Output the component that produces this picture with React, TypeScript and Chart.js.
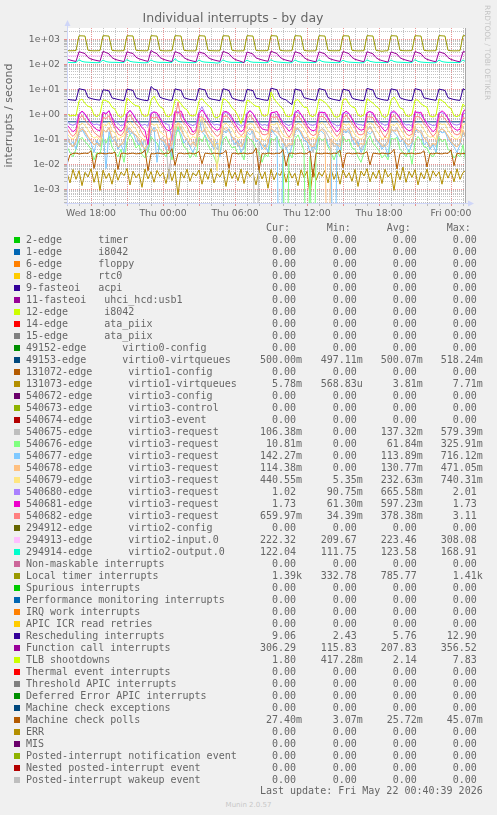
import React, { useEffect, useRef } from 'react';
import { Chart, registerables } from 'chart.js';

Chart.register(...registerables);

// ---- axis / text constants ----
const START_HOUR = 15.5; // hours since Wed 00:00 (Wed 15:30)
const END_HOUR = 48.75; // Fri 00:45
const STEP_HOURS = 0.25; // 15-minute samples
const Y_MIN = 2.83e-4;
const Y_MAX = 2830;
const TITLE = 'Individual interrupts - by day';
const Y_TITLE = 'interrupts / second';
const DAY_NAMES = ['Wed', 'Thu', 'Fri'];
const HEADERS = ['Cur:', 'Min:', 'Avg:', 'Max:'];
const LAST_UPDATE = 'Last update: Fri May 22 00:40:39 2026';
const FOOTER = 'Munin 2.0.57';
const WATERMARK = 'RRDTOOL / TOBI OETIKER';

// ---- legend ----
const LABELS = [
  '2-edge      timer',
  '1-edge      i8042',
  '6-edge      floppy',
  '8-edge      rtc0',
  '9-fasteoi   acpi',
  '11-fasteoi   uhci_hcd:usb1',
  '12-edge      i8042',
  '14-edge      ata_piix',
  '15-edge      ata_piix',
  '49152-edge      virtio0-config',
  '49153-edge      virtio0-virtqueues',
  '131072-edge      virtio1-config',
  '131073-edge      virtio1-virtqueues',
  '540672-edge      virtio3-config',
  '540673-edge      virtio3-control',
  '540674-edge      virtio3-event',
  '540675-edge      virtio3-request',
  '540676-edge      virtio3-request',
  '540677-edge      virtio3-request',
  '540678-edge      virtio3-request',
  '540679-edge      virtio3-request',
  '540680-edge      virtio3-request',
  '540681-edge      virtio3-request',
  '540682-edge      virtio3-request',
  '294912-edge      virtio2-config',
  '294913-edge      virtio2-input.0',
  '294914-edge      virtio2-output.0',
  'Non-maskable interrupts',
  'Local timer interrupts',
  'Spurious interrupts',
  'Performance monitoring interrupts',
  'IRQ work interrupts',
  'APIC ICR read retries',
  'Rescheduling interrupts',
  'Function call interrupts',
  'TLB shootdowns',
  'Thermal event interrupts',
  'Threshold APIC interrupts',
  'Deferred Error APIC interrupts',
  'Machine check exceptions',
  'Machine check polls',
  'ERR',
  'MIS',
  'Posted-interrupt notification event',
  'Nested posted-interrupt event',
  'Posted-interrupt wakeup event',
];

const COLORS = [
  '#00CC00', '#0066B3', '#FF8000', '#FFCC00', '#330099', '#990099', '#CCFF00', '#FF0000',
  '#808080', '#008F00', '#00487D', '#B35A00', '#B38F00', '#6B006B', '#8FB300', '#B30000',
  '#BEBEBE', '#80FF80', '#80C9FF', '#FFC080', '#FFE680', '#AA80FF', '#EE00CC', '#FF8080',
  '#666600', '#FFBFFF', '#00FFCC', '#CC6699', '#999900',
  '#00CC00', '#0066B3', '#FF8000', '#FFCC00', '#330099', '#990099', '#CCFF00', '#FF0000',
  '#808080', '#008F00', '#00487D', '#B35A00', '#B38F00', '#6B006B', '#8FB300', '#B30000',
  '#BEBEBE',
];

const Z = '0.00';
const CUR = [
  Z, Z, Z, Z, Z, Z, Z, Z, Z, Z,
  '500.00m', Z, '5.78m', Z, Z, Z,
  '106.38m', '10.81m', '142.27m', '114.38m', '440.55m', '1.02', '1.73', '659.97m',
  Z, '222.32', '122.04', Z, '1.39k', Z, Z, Z, Z,
  '9.06', '306.29', '1.80', Z, Z, Z, Z, '27.40m', Z, Z, Z, Z, Z,
];
const MIN = [
  Z, Z, Z, Z, Z, Z, Z, Z, Z, Z,
  '497.11m', Z, '568.83u', Z, Z, Z,
  Z, Z, Z, Z, '5.35m', '90.75m', '61.30m', '34.39m',
  Z, '209.67', '111.75', Z, '332.78', Z, Z, Z, Z,
  '2.43', '115.83', '417.28m', Z, Z, Z, Z, '3.07m', Z, Z, Z, Z, Z,
];
const AVG = [
  Z, Z, Z, Z, Z, Z, Z, Z, Z, Z,
  '500.07m', Z, '3.81m', Z, Z, Z,
  '137.32m', '61.84m', '113.89m', '130.77m', '232.63m', '665.58m', '597.23m', '378.38m',
  Z, '223.46', '123.58', Z, '785.77', Z, Z, Z, Z,
  '5.76', '207.83', '2.14', Z, Z, Z, Z, '25.72m', Z, Z, Z, Z, Z,
];
const MAX = [
  Z, Z, Z, Z, Z, Z, Z, Z, Z, Z,
  '518.24m', Z, '7.71m', Z, Z, Z,
  '579.39m', '325.91m', '716.12m', '471.05m', '740.31m', '2.01', '1.73', '3.11',
  Z, '308.08', '168.91', Z, '1.41k', Z, Z, Z, Z,
  '12.90', '356.52', '7.83', Z, Z, Z, Z, '45.07m', Z, Z, Z, Z, Z,
];

// ---- series values (15-minute samples, Wed 15:30 .. Fri 00:45) ----
const VIRTIO0_VQ = [
  0.5, 0.5, 0.5, 0.5, 0.5, 0.5, 0.5, 0.5,
  0.5, 0.5, 0.5, 0.5, 0.5, 0.5, 0.5, 0.5,
  0.5, 0.5, 0.5, 0.5, 0.5, 0.5, 0.5, 0.5,
  0.5, 0.5, 0.5, 0.5, 0.5, 0.5, 0.5, 0.5,
  0.5, 0.5, 0.5, 0.5, 0.5, 0.5, 0.5, 0.5,
  0.5, 0.5, 0.5, 0.5, 0.5, 0.5, 0.5, 0.5,
  0.5, 0.5, 0.518, 0.5, 0.5, 0.5, 0.5, 0.5,
  0.5, 0.5, 0.5, 0.5, 0.5, 0.5, 0.5, 0.5,
  0.5, 0.5, 0.5, 0.5, 0.5, 0.5, 0.5, 0.5,
  0.5, 0.5, 0.5, 0.5, 0.5, 0.5, 0.5, 0.5,
  0.5, 0.5, 0.5, 0.5, 0.5, 0.5, 0.5, 0.5,
  0.5, 0.5, 0.497, 0.5, 0.5, 0.5, 0.5, 0.5,
  0.5, 0.5, 0.5, 0.5, 0.5, 0.5, 0.5, 0.5,
  0.5, 0.5, 0.5, 0.5, 0.5, 0.5, 0.5, 0.5,
  0.5, 0.5, 0.5, 0.5, 0.5, 0.5, 0.5, 0.5,
  0.5, 0.5, 0.5, 0.5, 0.5, 0.5, 0.5, 0.5,
  0.5, 0.5, 0.5, 0.5, 0.5, 0.5,
];

const VIRTIO1_VQ = [
  0.0045, 0.0018, 0.0062, 0.0025, 0.0055, 0.0014, 0.0048, 0.0031,
  0.0066, 0.0019, 0.0052, 0.0009, 0.0058, 0.0027, 0.0044, 0.0016,
  0.0061, 0.0023, 0.0049, 0.0035, 0.0068, 0.0015, 0.0053, 0.0029,
  0.0042, 0.0012, 0.0064, 0.0026, 0.0051, 0.0019, 0.0057, 0.0033,
  0.0047, 0.0017, 0.0065, 0.0022, 0.0054, 0.0006, 0.0049, 0.0028,
  0.0063, 0.0021, 0.0046, 0.0034, 0.0059, 0.0016, 0.0052, 0.0025,
  0.0067, 0.0018, 0.0043, 0.0031, 0.0056, 0.0013, 0.0061, 0.0027,
  0.0048, 0.0022, 0.0064, 0.0017, 0.0053, 0.0032, 0.0045, 0.0015,
  0.0058, 0.0026, 0.0050, 0.0011, 0.0062, 0.0024, 0.0047, 0.0035,
  0.0066, 0.0019, 0.0055, 0.0028, 0.0044, 0.0014, 0.0060, 0.0030,
  0.0052, 0.00057, 0.0063, 0.0023, 0.0048, 0.0033, 0.0057, 0.0018,
  0.0065, 0.0025, 0.0051, 0.0016, 0.0059, 0.0029, 0.0046, 0.0021,
  0.0062, 0.0013, 0.0054, 0.0034, 0.0067, 0.0020, 0.0049, 0.0027,
  0.0058, 0.0017, 0.0063, 0.0031, 0.0045, 0.0009, 0.0056, 0.0024,
  0.0077, 0.0019, 0.0052, 0.0030, 0.0061, 0.0015, 0.0047, 0.0026,
  0.0064, 0.0022, 0.0055, 0.0033, 0.0050, 0.0016, 0.0060, 0.0028,
  0.0053, 0.0020, 0.0066, 0.0025, 0.0047, 0.00578,
];

const REQ_540675 = [
  0.14, 0.07, 0.05, 0.09, 0.22, 0.31, 0.18, 0.12,
  0.09, 0.06, 0.08, 0.05, 0.26, 0.19, 0.28, 0.11,
  0.13, 0.04, 0.07, 0.06, 0.35, 0.21, 0.17, 0.14,
  0.08, 0.05, 0.1, 0.03, 0.19, 0.29, 0.24, 0.1,
  0.12, 0.06, 0.0025, 0.07, 0.27, 0.2, 0.33, 0.13,
  0.1, 0.05, 0.07, 0.08, 0.23, 0.579, 0.19, 0.15,
  0.09, 0.07, 0.04, 0.06, 0.3, 0.22, 0.26, 0.12,
  0.11, 0.05, 0.08, 0.04, 0.21, 0.28, 0.16, 0,
  0.08, 0.06, 0.05, 0.07, 0.25, 0.19, 0.3, 0.13,
  0.1, 0.04, 0.06, 0.05, 0.32, 0.24, 0.18, 0.11,
  0.12, 0.07, 0.03, 0.08, 0.2, 0.27, 0.23, 0.14,
  0.09, 0.05, 0.07, 0.06, 0.28, 0.21, 0.19, 0.12,
  0.11, 0.06, 0.04, 0.07, 0.24, 0.34, 0.2, 0.1,
  0.08, 0.05, 0.06, 0.09, 0.26, 0.22, 0.29, 0.13,
  0.1, 0.07, 0.05, 0.06, 0.31, 0.18, 0.24, 0.11,
  0.12, 0.04, 0.07, 0.05, 0.22, 0.27, 0.2, 0.14,
  0.09, 0.06, 0.05, 0.07, 0.19, 0.106,
];

const REQ_540676 = [
  0.05, 0.03, 0.02, 0.04, 0.09, 0.12, 0.08, 0.06,
  0.04, 0.015, 0.03, 0.025, 0.11, 0.07, 0.14, 0.05,
  0.03, 0.02, 0.04, 0.012, 0.08, 0.16, 0.1, 0.045,
  0.06, 0.025, 0.018, 0.035, 0.13, 0.09, 0.07, 0.04,
  0.03, 0.02, 0.045, 0.015, 0.1, 0.326, 0.11, 0.05,
  0.04, 0.018, 0.03, 0.02, 0.12, 0.08, 0.15, 0.06,
  0.035, 0.02, 0.01, 0.03, 0.09, 0.13, 0.07, 0.045,
  0.05, 0.025, 0.03, 0.015, 0.14, 0.1, 0.08, 0.04,
  0.03, 0.012, 0.025, 0.02, 0.11, 0.09, 0.13, 0.05,
  0.04, 0, 0.03, 0.018, 0.1, 0.15, 0.08, 0.035,
  0, 0.02, 0, 0.025, 0.12, 0.09, 0.11, 0.05,
  0.03, 0.015, 0.035, 0.02, 0.13, 0.08, 0.1, 0.045,
  0.04, 0.02, 0.012, 0.03, 0.09, 0.14, 0.07, 0.05,
  0.035, 0.018, 0.025, 0.015, 0.11, 0.1, 0.12, 0.04,
  0.03, 0.02, 0.04, 0.01, 0.08, 0.13, 0.09, 0.05,
  0.045, 0.025, 0.02, 0.03, 0.12, 0.08, 0.1, 0.04,
  0.03, 0.018, 0.025, 0.02, 0.06, 0.0108,
];

const REQ_540677 = [
  0.12, 0.06, 0.08, 0.04, 0.18, 0.25, 0.15, 0.1,
  0.07, 0.03, 0.09, 0.05, 0.22, 0.0067, 0.2, 0.08,
  0.1, 0.04, 0.06, 0.03, 0.27, 0.16, 0.19, 0.09,
  0.06, 0.08, 0.03, 0.05, 0.21, 0.3, 0.012, 0.11,
  0.08, 0.04, 0.07, 0.02, 0.19, 0.24, 0.17, 0.07,
  0.1, 0.05, 0.03, 0.06, 0.716, 0.2, 0.14, 0.09,
  0.07, 0.04, 0.08, 0.02, 0.23, 0.18, 0.26, 0.1,
  0.06, 0.09, 0.03, 0.05, 0.2, 0.15, 0.22, 0.08,
  0.1, 0.04, 0.06, 0.03, 0.25, 0.17, 0.13, 0,
  0.07, 0.05, 0.02, 0.06, 0.19, 0.28, 0.16, 0.09,
  0.08, 0.03, 0.05, 0.04, 0.24, 0.2, 0.15, 0.06,
  0.04, 0, 0.07, 0.03, 0.22, 0.18, 0.25, 0.1,
  0.06, 0.08, 0.03, 0.05, 0.2, 0.16, 0.21, 0.09,
  0.07, 0.04, 0.06, 0.02, 0.26, 0.19, 0.14, 0.08,
  0.1, 0.05, 0.03, 0.07, 0.21, 0.24, 0.17, 0.06,
  0.08, 0.04, 0.06, 0.03, 0.23, 0.18, 0.2, 0.1,
  0.07, 0.05, 0.03, 0.06, 0.2, 0.142,
];

const REQ_540678 = [
  0.1, 0.07, 0.05, 0.08, 0.19, 0.26, 0.21, 0.13,
  0.09, 0.06, 0.07, 0.05, 0.24, 0.2, 0.3, 0.12,
  0.08, 0.05, 0.06, 0.09, 0.22, 0.28, 0.18, 0.15,
  0.11, 0.06, 0.04, 0.07, 0.27, 0.21, 0.25, 0.1,
  0.09, 0.07, 0.05, 0.06, 0.2, 0.471, 0.23, 0.14,
  0.1, 0.06, 0.08, 0.05, 0.25, 0.19, 0.27, 0.12,
  0.08, 0.05, 0.07, 0.06, 0.23, 0.3, 0.2, 0.13,
  0.09, 0.07, 0.05, 0.08, 0.21, 0.26, 0.24, 0.11,
  0.1, 0.06, 0.04, 0.07, 0.28, 0.22, 0.19, 0.14,
  0.08, 0.05, 0.07, 0.06, 0.24, 0.27, 0.21, 0.12,
  0.09, 0.06, 0.05, 0.08, 0.2, 0.25, 0.18, 0,
  0.1, 0.07, 0.06, 0.05, 0.26, 0.23, 0.28, 0.13,
  0.09, 0.05, 0.07, 0.06, 0.22, 0.29, 0.2, 0.11,
  0.08, 0.06, 0.05, 0.07, 0.25, 0.21, 0.24, 0.14,
  0.1, 0.07, 0.06, 0.08, 0.27, 0.23, 0.19, 0.12,
  0.09, 0.05, 0.07, 0.06, 0.21, 0.26, 0.22, 0.13,
  0.08, 0.06, 0.05, 0.07, 0.24, 0.114,
];

const REQ_540679 = [
  0.17, 0.12, 0.1, 0.14, 0.33, 0.45, 0.36, 0.24,
  0.15, 0.11, 0.13, 0.09, 0.4, 0.34, 0.48, 0.22,
  0.18, 0.1, 0.12, 0.14, 0.37, 0.5, 0.33, 0.26,
  0.14, 0.11, 0.09, 0.13, 0.44, 0.36, 0.41, 0.2,
  0.16, 0.12, 0.1, 0.15, 0.35, 0.46, 0.39, 0.25,
  0.17, 0.1, 0.13, 0.11, 0.42, 0.74, 0.37, 0.23,
  0.15, 0.12, 0.00535, 0.1, 0.38, 0.45, 0.34, 0.27,
  0.16, 0.11, 0.13, 0.12, 0.36, 0.43, 0.4, 0.21,
  0.18, 0.1, 0.09, 0.14, 0.41, 0.37, 0.47, 0.24,
  0.15, 0.12, 0.11, 0.13, 0.34, 0.44, 0.38, 0.26,
  0.16, 0.1, 0.12, 0.1, 0.39, 0.48, 0.35, 0.22,
  0.17, 0.11, 0.09, 0.14, 0.43, 0.36, 0.42, 0.25,
  0.15, 0.12, 0.1, 0.13, 0.37, 0.46, 0.39, 0.23,
  0.16, 0.1, 0.12, 0.11, 0.4, 0.35, 0.44, 0.27,
  0.18, 0.11, 0.1, 0.14, 0.36, 0.42, 0.37, 0.24,
  0.15, 0.12, 0.13, 0.1, 0.45, 0.39, 0.41, 0.22,
  0.16, 0.11, 0.1, 0.13, 0.38, 0.44,
];

const REQ_540680 = [
  0.52, 0.4, 0.36, 0.42, 1.05, 1.3, 0.95, 0.62,
  0.48, 0.38, 0.41, 0.35, 1.2, 1.1, 1.35, 0.7,
  0.55, 0.43, 0.34, 0.39, 0.98, 1.4, 1.05, 0.6,
  0.46, 0.36, 0.4, 0.33, 1.15, 1.25, 0.9, 0.68,
  0.5, 0.42, 0.37, 0.0908, 1.1, 1.3, 1.0, 0.64,
  0.47, 0.39, 0.35, 0.41, 1.25, 2.01, 1.1, 0.72,
  0.53, 0.37, 0.4, 0.36, 1.02, 1.2, 0.96, 0.6,
  0.49, 0.41, 0.33, 0.38, 1.18, 1.35, 1.05, 0.66,
  0.45, 0.36, 0.39, 0.34, 1.1, 1.22, 0.92, 0.7,
  0.52, 0.4, 0.35, 0.42, 1.3, 1.15, 1.0, 0.62,
  0.48, 0.38, 0.36, 0.4, 1.05, 1.28, 0.98, 0.68,
  0.5, 0.41, 0.34, 0.37, 1.2, 1.1, 1.08, 0.64,
  0.46, 0.39, 0.38, 0.35, 1.12, 1.32, 0.94, 0.7,
  0.51, 0.42, 0.36, 0.4, 1.25, 1.18, 1.02, 0.66,
  0.47, 0.37, 0.39, 0.33, 1.08, 1.27, 0.97, 0.62,
  0.49, 0.4, 0.35, 0.38, 1.2, 1.14, 1.04, 0.68,
  0.5, 0.39, 0.37, 0.41, 1.15, 1.02,
];

const REQ_540681 = [
  0.38, 0.27, 0.2, 0.25, 0.95, 1.35, 1.05, 0.66,
  0.42, 0.3, 0.24, 0.22, 1.2, 1.0, 1.4, 0.72,
  0.36, 0.26, 0.21, 0.28, 1.1, 1.45, 0.98, 0.64,
  0.44, 0.29, 0.23, 0.0613, 1.0, 1.25, 1.15, 0.7,
  0.39, 0.25, 0.22, 0.27, 1.3, 1.1, 1.38, 0.68,
  0.41, 0.31, 0.19, 0.24, 1.05, 1.5, 1.02, 0.62,
  0.37, 0.27, 0.23, 0.26, 1.22, 1.3, 1.12, 0.74,
  0.43, 0.28, 0.2, 0.25, 0.98, 1.42, 1.06, 0.66,
  0.38, 0.26, 0.24, 0.23, 1.15, 1.2, 1.3, 0.7,
  0.4, 0.3, 0.21, 0.27, 1.08, 1.48, 1.0, 0.65,
  0.36, 0.25, 0.22, 0.24, 1.25, 1.15, 1.2, 0.72,
  0.42, 0.28, 0.2, 0.26, 1.02, 1.35, 1.08, 0.68,
  0.39, 0.27, 0.23, 0.25, 1.18, 1.28, 1.14, 0.64,
  0.41, 0.29, 0.21, 0.27, 1.1, 1.4, 1.04, 0.7,
  0.37, 0.26, 0.22, 0.24, 1.3, 1.12, 1.22, 0.66,
  0.4, 0.28, 0.2, 0.26, 1.06, 1.38, 1.1, 0.69,
  0.38, 0.27, 0.23, 0.25, 1.2, 1.73,
];

const REQ_540682 = [
  0.28, 0.17, 0.13, 0.18, 0.65, 0.9, 0.6, 0.42,
  0.32, 0.19, 0.15, 0.12, 0.75, 0.68, 0.88, 0.47,
  0.27, 0.16, 0.14, 0.2, 0.72, 0.95, 0.62, 0.4,
  0.31, 0.18, 0.12, 0.16, 0.8, 0.7, 0.78, 0.46,
  0.29, 0.2, 0.0344, 0.17, 0.68, 3.11, 0.66, 0.44,
  0.33, 0.17, 0.15, 0.19, 0.74, 0.82, 0.6, 0.41,
  0.26, 0.18, 0.13, 0.16, 0.78, 0.88, 0.7, 0.48,
  0.3, 0.19, 0.14, 0.18, 0.66, 0.92, 0.64, 0.43,
  0.28, 0.16, 0.15, 0.17, 0.82, 0.75, 0.8, 0.45,
  0.32, 0.18, 0.12, 0.19, 0.7, 0.9, 0.62, 0.42,
  0.27, 0.17, 0.14, 0.16, 0.76, 0.84, 0.72, 0.47,
  0.3, 0.19, 0.13, 0.18, 0.68, 0.94, 0.65, 0.44,
  0.29, 0.16, 0.15, 0.17, 0.8, 0.78, 0.74, 0.4,
  0.31, 0.18, 0.12, 0.19, 0.72, 0.9, 0.63, 0.46,
  0.28, 0.17, 0.14, 0.16, 0.77, 0.82, 0.7, 0.43,
  0.3, 0.19, 0.13, 0.18, 0.7, 0.88, 0.66, 0.45,
  0.29, 0.17, 0.15, 0.17, 0.74, 0.66,
];

const VIRTIO2_IN = [
  219, 217, 216, 218, 238, 229, 223, 220,
  218, 216, 215, 217, 242, 231, 224, 221,
  220, 217, 216, 219, 240, 230, 222, 219,
  217, 215, 214, 216, 236, 228, 221, 218,
  219, 216, 215, 218, 241, 232, 225, 220,
  218, 216, 210, 217, 308, 235, 224, 221,
  220, 218, 216, 219, 239, 229, 223, 219,
  217, 215, 214, 216, 243, 230, 222, 218,
  219, 217, 215, 218, 237, 228, 224, 220,
  218, 216, 215, 217, 240, 231, 223, 219,
  220, 217, 216, 219, 238, 229, 222, 221,
  217, 215, 214, 216, 242, 232, 225, 218,
  219, 216, 215, 218, 239, 230, 223, 220,
  218, 216, 215, 217, 241, 229, 222, 219,
  220, 218, 216, 219, 236, 228, 224, 221,
  217, 215, 214, 216, 240, 231, 223, 218,
  219, 217, 216, 218, 238, 222,
];

const VIRTIO2_OUT = [
  120, 118, 117, 118, 152, 130, 123, 121,
  119, 117, 116, 118, 148, 128, 122, 120,
  120, 118, 117, 119, 155, 131, 124, 121,
  118, 116, 115, 117, 150, 129, 122, 119,
  120, 118, 117, 118, 168, 132, 123, 121,
  119, 117, 116, 118, 149, 128, 122, 120,
  118, 116, 112, 117, 151, 130, 123, 119,
  120, 118, 117, 119, 147, 127, 121, 120,
  119, 117, 116, 118, 153, 131, 124, 121,
  118, 116, 115, 117, 150, 129, 122, 119,
  120, 118, 117, 119, 152, 130, 123, 121,
  119, 117, 116, 118, 146, 128, 122, 120,
  118, 116, 115, 117, 151, 131, 124, 119,
  120, 118, 117, 118, 149, 129, 122, 121,
  119, 117, 116, 118, 154, 130, 123, 120,
  118, 116, 115, 117, 148, 128, 122, 119,
  120, 118, 117, 118, 150, 122,
];

const LOC = [
  352, 348, 350, 355, 1380, 1370, 1350, 365,
  350, 346, 349, 352, 1390, 1375, 1340, 360,
  348, 345, 347, 351, 1385, 1372, 1355, 362,
  353, 349, 346, 350, 1395, 1368, 1345, 358,
  347, 344, 348, 350, 1388, 1376, 1352, 361,
  349, 346, 343, 348, 1392, 1371, 1348, 359,
  351, 347, 345, 349, 1386, 1374, 1350, 363,
  346, 343, 345, 347, 1391, 1369, 1344, 357,
  350, 347, 349, 352, 1397, 1378, 1353, 364,
  348, 344, 346, 350, 1389, 1373, 1349, 360,
  345, 342, 344, 348, 1393, 1370, 1346, 358,
  349, 346, 348, 351, 1384, 1375, 1351, 362,
  347, 344, 346, 349, 1396, 1372, 1347, 359,
  346, 333, 345, 348, 1390, 1377, 1354, 361,
  350, 347, 349, 352, 1388, 1369, 1345, 360,
  348, 345, 347, 350, 1410, 1374, 1350, 363,
  347, 344, 346, 349, 1390, 1390,
];

const RES = [
  4.0, 3.8, 3.7, 3.6, 10.6, 9.9, 9.4, 4.7,
  4.3, 4.0, 3.8, 3.7, 9.5, 9.2, 8.6, 4.5,
  4.2, 3.9, 3.7, 3.5, 10.2, 9.6, 9.0, 4.6,
  4.1, 3.8, 3.6, 3.5, 12.9, 10.1, 9.3, 4.8,
  4.3, 4.0, 3.7, 3.6, 10.4, 9.7, 9.1, 4.6,
  4.2, 3.9, 3.8, 3.6, 10.8, 10.0, 9.5, 4.7,
  4.1, 3.9, 3.7, 3.5, 10.5, 9.8, 8.9, 4.5,
  4.0, 3.7, 3.5, 3.4, 9.9, 9.4, 8.8, 4.4,
  4.2, 3.9, 3.7, 3.6, 11.2, 10.3, 9.6, 4.8,
  4.1, 3.8, 3.0, 2.43, 10.3, 9.6, 9.0, 4.6,
  4.3, 4.0, 3.8, 3.6, 10.7, 9.9, 9.3, 4.7,
  4.2, 3.9, 3.7, 3.5, 10.1, 9.5, 8.9, 4.5,
  4.0, 3.8, 3.6, 3.5, 10.9, 10.0, 9.4, 4.7,
  4.2, 3.9, 3.7, 3.6, 10.4, 9.8, 9.2, 4.6,
  4.1, 3.8, 3.6, 3.5, 10.6, 9.9, 9.1, 4.5,
  4.3, 4.0, 3.8, 3.6, 10.2, 9.6, 9.0, 4.6,
  4.2, 3.9, 3.7, 3.6, 10.5, 9.06,
];

const CAL = [
  160, 148, 138, 130, 320, 292, 268, 188,
  162, 150, 141, 133, 330, 295, 262, 185,
  158, 146, 137, 128, 318, 288, 270, 192,
  165, 152, 140, 131, 356, 300, 266, 186,
  160, 147, 136, 129, 322, 290, 258, 183,
  157, 144, 134, 126, 315, 286, 262, 187,
  161, 149, 139, 131, 328, 297, 265, 190,
  156, 142, 130, 116, 312, 284, 255, 180,
  163, 150, 140, 132, 335, 298, 270, 191,
  159, 147, 137, 129, 320, 291, 264, 186,
  155, 143, 133, 125, 317, 287, 260, 184,
  160, 148, 138, 130, 326, 294, 267, 189,
  158, 146, 135, 127, 319, 289, 261, 185,
  154, 141, 131, 122, 314, 285, 258, 182,
  159, 147, 136, 128, 324, 292, 266, 188,
  157, 145, 134, 126, 318, 288, 262, 186,
  156, 144, 133, 125, 320, 306,
];

const TLB = [
  1.1, 0.85, 0.92, 0.88, 3.4, 4.1, 2.7, 2.1,
  1.9, 0.95, 0.8, 1.05, 3.8, 3.5, 3.1, 1.9,
  1.6, 0.9, 0.75, 0.95, 4.5, 3.4, 2.6, 2.2,
  2.1, 1.0, 0.82, 0.9, 3.6, 5.3, 3.0, 2.0,
  1.7, 0.88, 0.78, 1.1, 3.9, 3.7, 2.6, 1.8,
  1.5, 0.92, 0.85, 0.98, 3.4, 4.3, 3.0, 2.3,
  1.8, 0.8, 0.72, 0.9, 4.2, 3.8, 2.8, 1.8,
  1.4, 0.86, 0.42, 0.95, 3.7, 3.3, 2.5, 2.1,
  2.0, 0.95, 0.83, 1.0, 7.83, 4.2, 2.9, 2.2,
  1.6, 0.87, 0.79, 0.92, 3.5, 3.9, 2.7, 1.9,
  1.9, 0.9, 0.8, 1.05, 4.0, 3.6, 3.0, 2.2,
  1.5, 0.84, 0.76, 0.9, 3.8, 4.2, 2.6, 2.0,
  1.8, 0.93, 0.81, 0.97, 4.2, 3.4, 2.8, 2.1,
  1.7, 0.88, 0.74, 0.94, 3.6, 4.9, 3.1, 1.8,
  1.6, 0.9, 0.82, 1.0, 3.8, 3.7, 2.6, 2.2,
  1.9, 0.86, 0.78, 0.92, 4.1, 3.5, 2.9, 2.0,
  1.7, 0.89, 0.8, 0.95, 2.6, 1.8,
];

const MCP = [
  0.010, 0.024, 0.027, 0.028, 0.026, 0.027, 0.028, 0.027,
  0.035, 0.0068, 0.026, 0.028, 0.027, 0.026, 0.028, 0.027,
  0.031, 0.0062, 0.027, 0.028, 0.026, 0.027, 0.028, 0.026,
  0.027, 0.028, 0.038, 0.0055, 0.027, 0.026, 0.028, 0.027,
  0.026, 0.028, 0.027, 0.042, 0.009, 0.027, 0.028, 0.026,
  0.027, 0.028, 0.026, 0.027, 0.033, 0.0105, 0.028, 0.027,
  0.026, 0.028, 0.027, 0.026, 0.028, 0.036, 0.0068, 0.027,
  0.028, 0.026, 0.027, 0.028, 0.026, 0.027, 0.028, 0.045,
  0.0058, 0.027, 0.026, 0.028, 0.027, 0.026, 0.028, 0.027,
  0.039, 0.0085, 0.027, 0.028, 0.026, 0.027, 0.028, 0.026,
  0.027, 0.034, 0.00307, 0.028, 0.027, 0.026, 0.028, 0.027,
  0.026, 0.028, 0.027, 0.037, 0.0072, 0.027, 0.028, 0.026,
  0.027, 0.028, 0.026, 0.027, 0.032, 0.0095, 0.028, 0.027,
  0.026, 0.028, 0.027, 0.026, 0.028, 0.04, 0.0065, 0.027,
  0.028, 0.026, 0.027, 0.028, 0.026, 0.027, 0.028, 0.035,
  0.0078, 0.027, 0.026, 0.028, 0.027, 0.026, 0.028, 0.027,
  0.038, 0.0088, 0.028, 0.026, 0.027, 0.0274,
];

// legend index -> values (all other rows are zero over the whole period)
const PLOTTED: [number, number[]][] = [
  [10, VIRTIO0_VQ],
  [12, VIRTIO1_VQ],
  [16, REQ_540675],
  [17, REQ_540676],
  [18, REQ_540677],
  [19, REQ_540678],
  [20, REQ_540679],
  [21, REQ_540680],
  [22, REQ_540681],
  [23, REQ_540682],
  [25, VIRTIO2_IN],
  [26, VIRTIO2_OUT],
  [28, LOC],
  [33, RES],
  [34, CAL],
  [35, TLB],
  [40, MCP],
];

// ---- styling ----
const FONT_COLOR = '#666666';
const GRID = 'rgba(143,143,143,0.55)';
const MGRID = 'rgba(222,79,79,0.6)';
const AXIS = '#CFD6F8';

const Y_TICKS: number[] = [];
for (let e = -4; e <= 3; e++) {
  for (let s = 1; s <= 9; s++) {
    const v = s * Math.pow(10, e);
    if (v >= Y_MIN && v <= Y_MAX) Y_TICKS.push(v);
  }
}

function decadeExp(v: number): number | null {
  if (!(v > 0)) return null;
  const e = Math.floor(Math.log10(v) + 1e-9);
  const s = v / Math.pow(10, e);
  return Math.abs(s - 1) < 1e-6 ? e : null;
}

function fmtValue(s: string): string {
  const t = /[a-z]$/i.test(s) ? s : s + ' ';
  return t.padStart(7, ' ');
}

const framePlugin = {
  id: 'rrdFrame',
  beforeDraw(chart: any) {
    const { ctx, chartArea: a, width, height } = chart;
    ctx.save();
    ctx.fillStyle = '#F0F0F0';
    ctx.fillRect(0, 0, width, height);
    ctx.fillStyle = '#FFFFFF';
    ctx.fillRect(a.left, a.top, a.right - a.left, a.bottom - a.top);
    ctx.restore();
  },
  afterDraw(chart: any) {
    const { ctx, chartArea: a } = chart;
    ctx.save();
    // right frame line
    ctx.strokeStyle = '#a8a8a8';
    ctx.lineWidth = 1;
    ctx.beginPath();
    ctx.moveTo(Math.round(a.right) - 0.5, a.top);
    ctx.lineTo(Math.round(a.right) - 0.5, a.bottom);
    ctx.stroke();
    // axes with arrows
    const ax = Math.round(a.left) + 0.5;
    const ay = Math.round(a.bottom) + 0.5;
    ctx.strokeStyle = AXIS;
    ctx.fillStyle = AXIS;
    ctx.beginPath();
    ctx.moveTo(ax, ay + 2);
    ctx.lineTo(ax, a.top - 3);
    ctx.moveTo(ax - 3, ay);
    ctx.lineTo(a.right + 4, ay);
    ctx.stroke();
    ctx.beginPath();
    ctx.moveTo(ax - 3, a.top - 2);
    ctx.lineTo(ax + 3, a.top - 2);
    ctx.lineTo(ax, a.top - 8);
    ctx.closePath();
    ctx.fill();
    ctx.beginPath();
    ctx.moveTo(a.right + 2, ay - 3);
    ctx.lineTo(a.right + 2, ay + 3);
    ctx.lineTo(a.right + 8, ay);
    ctx.closePath();
    ctx.fill();
    // watermark
    ctx.translate(487.3, 5);
    ctx.rotate(Math.PI / 2);
    ctx.font = '7.4px "DejaVu Sans"';
    ctx.fillStyle = '#c4c4c4';
    ctx.textAlign = 'left';
    ctx.textBaseline = 'middle';
    ctx.fillText(WATERMARK, 0, 0);
    ctx.restore();
  },
};

export default function App() {
  const ref = useRef<HTMLCanvasElement>(null);

  useEffect(() => {
    const canvas = ref.current;
    if (!canvas) return;
    const datasets = PLOTTED.map(([idx, values]) => ({
      label: LABELS[idx],
      data: values.map((v, i) => ({ x: START_HOUR + i * STEP_HOURS, y: v > 0 ? v : 1e-9 })),
      borderColor: COLORS[idx],
      backgroundColor: COLORS[idx],
      borderWidth: 1,
      pointRadius: 0,
      tension: 0,
      fill: false,
      order: 100 - idx,
    }));
    const tickFont = { family: 'DejaVu Sans', size: 9.3 };
    const chart = new Chart(canvas, {
      type: 'line',
      data: { datasets },
      plugins: [framePlugin],
      options: {
        responsive: false,
        animation: false,
        devicePixelRatio: 1,
        events: [],
        layout: { padding: { left: 0, right: 31, top: 0, bottom: 0 } },
        plugins: {
          legend: { display: false },
          tooltip: { enabled: false },
          title: {
            display: true,
            text: TITLE,
            color: FONT_COLOR,
            font: { family: 'DejaVu Sans', size: 12.5, weight: 'normal' },
            padding: { top: 11, bottom: 2 },
          },
        },
        scales: {
          x: {
            type: 'linear',
            min: START_HOUR,
            max: END_HOUR,
            bounds: 'data',
            afterFit: (s: any) => { s.height = 22; },
            ticks: {
              stepSize: 1,
              includeBounds: false,
              autoSkip: false,
              maxRotation: 0,
              minRotation: 0,
              color: FONT_COLOR,
              font: tickFont,
              padding: 2,
              callback: (v: any) => {
                const h = Math.round(Number(v));
                if (h % 6 !== 0) return '';
                const day = DAY_NAMES[Math.floor(h / 24)];
                return `${day} ${String(h % 24).padStart(2, '0')}:00`;
              },
            },
            grid: {
              color: (c: any) => (c.tick && Math.round(c.tick.value) % 3 === 0 ? MGRID : GRID),
              lineWidth: 1,
              drawTicks: true,
              tickLength: 3,
            },
            border: { display: false, dash: [1, 1] },
          },
          y: {
            type: 'logarithmic',
            min: Y_MIN,
            max: Y_MAX,
            bounds: 'data',
            afterFit: (s: any) => { s.width = 67; },
            afterBuildTicks: (s: any) => { s.ticks = Y_TICKS.map((v) => ({ value: v })); },
            ticks: {
              autoSkip: false,
              color: FONT_COLOR,
              font: tickFont,
              padding: 4,
              callback: (v: any) => {
                const e = decadeExp(Number(v));
                if (e === null) return '';
                return `1e${e < 0 ? '-' : '+'}${String(Math.abs(e)).padStart(2, '0')}`;
              },
            },
            grid: {
              color: (c: any) => (c.tick && decadeExp(c.tick.value) !== null ? MGRID : GRID),
              lineWidth: 1,
              drawTicks: true,
              tickLength: 3,
            },
            border: { display: false, dash: [1, 1] },
            title: {
              display: true,
              text: Y_TITLE,
              color: FONT_COLOR,
              font: { family: 'DejaVu Sans', size: 11 },
              padding: { top: 3, bottom: 0 },
            },
          },
        },
      } as any,
    });
    return () => chart.destroy();
  }, []);

  const valueCols = [260, 320.7, 380.7, 440.7];
  const headerCols = [266, 326.7, 386.7, 446.7];
  const stats = [CUR, MIN, AVG, MAX];
  const textBase: React.CSSProperties = {
    position: 'absolute',
    whiteSpace: 'pre',
    lineHeight: '12px',
    height: 12,
  };

  return (
    <div
      style={{
        position: 'absolute',
        left: 0,
        top: 0,
        width: 497,
        height: 815,
        overflow: 'hidden',
        background: '#F0F0F0',
        fontFamily: '"DejaVu Sans Mono", monospace',
        fontSize: 10,
        color: FONT_COLOR,
      }}
    >
      <canvas ref={ref} width={497} height={225} style={{ position: 'absolute', left: 0, top: 0, display: 'block' }} />
      {HEADERS.map((h, k) => (
        <div key={'h' + k} style={{ ...textBase, left: headerCols[k], top: 222 }}>{h}</div>
      ))}
      {LABELS.map((label, i) => {
        const top = 234 + 12 * i;
        return (
          <React.Fragment key={i}>
            <div style={{ position: 'absolute', left: 14, top: top + 3, width: 6, height: 6, background: COLORS[i] }} />
            <div style={{ ...textBase, left: 26, top }}>{label}</div>
            {stats.map((arr, k) => (
              <div key={k} style={{ ...textBase, left: valueCols[k], top }}>{fmtValue(arr[i])}</div>
            ))}
          </React.Fragment>
        );
      })}
      <div style={{ ...textBase, right: 14.3, top: 785 }}>{LAST_UPDATE}</div>
      <div
        style={{
          position: 'absolute',
          left: 0,
          width: 497,
          top: 801,
          textAlign: 'center',
          fontFamily: '"DejaVu Sans", sans-serif',
          fontSize: 7,
          lineHeight: '8px',
          color: '#c8c8c8',
        }}
      >
        {FOOTER}
      </div>
    </div>
  );
}
